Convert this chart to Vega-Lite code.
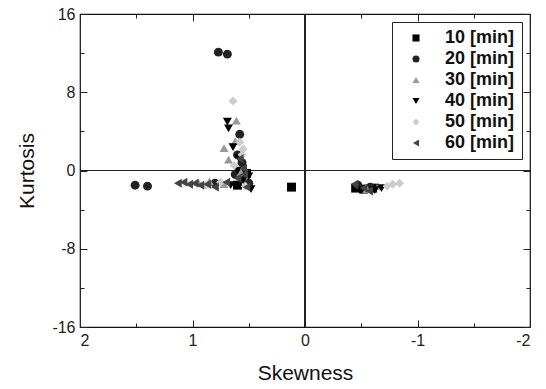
{
  "$schema": "https://vega.github.io/schema/vega-lite/v6.json",
  "width": 450,
  "height": 313,
  "autosize": "none",
  "padding": {"left": 80, "top": 14, "right": 16, "bottom": 62},
  "background": "white",
  "config": {
    "view": {"stroke": "#111", "strokeWidth": 1.2},
    "font": "Liberation Sans",
    "axis": {"domain": false, "grid": false, "labelFont": "Liberation Sans", "labelFontSize": 16, "labelColor": "#222", "tickColor": "#222", "titleFont": "Liberation Sans", "titleFontSize": 21, "titleFontWeight": "normal", "titleColor": "#111"}
  },
  "data": {"values": [
    {"s": 0.12, "k": -1.7, "t": "10 [min]"},
    {"s": -0.45, "k": -1.8, "t": "10 [min]"},
    {"s": -0.52, "k": -1.9, "t": "10 [min]"},
    {"s": -0.60, "k": -1.8, "t": "10 [min]"},
    {"s": 0.52, "k": -0.3, "t": "10 [min]"},
    {"s": 0.60, "k": -1.5, "t": "10 [min]"},
    {"s": 0.77, "k": 12.1, "t": "20 [min]"},
    {"s": 0.69, "k": 11.9, "t": "20 [min]"},
    {"s": 1.51, "k": -1.5, "t": "20 [min]"},
    {"s": 1.40, "k": -1.6, "t": "20 [min]"},
    {"s": 0.58, "k": 3.7, "t": "20 [min]"},
    {"s": 0.56, "k": 0.8, "t": "20 [min]"},
    {"s": 0.62, "k": -0.4, "t": "20 [min]"},
    {"s": 0.50, "k": -1.3, "t": "20 [min]"},
    {"s": 0.60, "k": 1.6, "t": "20 [min]"},
    {"s": -0.47, "k": -1.5, "t": "20 [min]"},
    {"s": -0.58, "k": -1.7, "t": "20 [min]"},
    {"s": 0.80, "k": -1.3, "t": "20 [min]"},
    {"s": 0.61, "k": 5.1, "t": "30 [min]"},
    {"s": 0.72, "k": 2.3, "t": "30 [min]"},
    {"s": 0.68, "k": 1.1, "t": "30 [min]"},
    {"s": 0.57, "k": -0.2, "t": "30 [min]"},
    {"s": 0.85, "k": -1.1, "t": "30 [min]"},
    {"s": 0.72, "k": -1.4, "t": "30 [min]"},
    {"s": 0.95, "k": -1.2, "t": "30 [min]"},
    {"s": 0.62, "k": 3.0, "t": "30 [min]"},
    {"s": -0.55, "k": -1.9, "t": "30 [min]"},
    {"s": -0.65, "k": -1.6, "t": "30 [min]"},
    {"s": 0.69, "k": 5.0, "t": "40 [min]"},
    {"s": 0.68, "k": 4.3, "t": "40 [min]"},
    {"s": 0.64, "k": 2.4, "t": "40 [min]"},
    {"s": 0.60, "k": 0.0, "t": "40 [min]"},
    {"s": 0.50, "k": -0.6, "t": "40 [min]"},
    {"s": 0.66, "k": -1.5, "t": "40 [min]"},
    {"s": 0.48, "k": -1.9, "t": "40 [min]"},
    {"s": 0.55, "k": -1.0, "t": "40 [min]"},
    {"s": 0.59, "k": 1.3, "t": "40 [min]"},
    {"s": -0.50, "k": -2.0, "t": "40 [min]"},
    {"s": -0.62, "k": -2.0, "t": "40 [min]"},
    {"s": -0.68, "k": -1.8, "t": "40 [min]"},
    {"s": 0.64, "k": 7.1, "t": "50 [min]"},
    {"s": 0.58, "k": 2.9, "t": "50 [min]"},
    {"s": 0.56, "k": 1.6, "t": "50 [min]"},
    {"s": 0.63, "k": 0.5, "t": "50 [min]"},
    {"s": 0.88, "k": -1.5, "t": "50 [min]"},
    {"s": 0.75, "k": -1.2, "t": "50 [min]"},
    {"s": 0.53, "k": -1.6, "t": "50 [min]"},
    {"s": 0.55, "k": 2.2, "t": "50 [min]"},
    {"s": -0.73, "k": -1.6, "t": "50 [min]"},
    {"s": -0.78, "k": -1.4, "t": "50 [min]"},
    {"s": -0.84, "k": -1.3, "t": "50 [min]"},
    {"s": 1.13, "k": -1.3, "t": "60 [min]"},
    {"s": 1.08, "k": -1.2, "t": "60 [min]"},
    {"s": 1.03, "k": -1.4, "t": "60 [min]"},
    {"s": 0.98, "k": -1.3, "t": "60 [min]"},
    {"s": 0.93, "k": -1.5, "t": "60 [min]"},
    {"s": 0.87, "k": -1.4, "t": "60 [min]"},
    {"s": 0.80, "k": -1.7, "t": "60 [min]"},
    {"s": 0.70, "k": -1.2, "t": "60 [min]"},
    {"s": 0.60, "k": -0.8, "t": "60 [min]"},
    {"s": 0.55, "k": 0.2, "t": "60 [min]"},
    {"s": 0.52, "k": -1.7, "t": "60 [min]"},
    {"s": 0.58, "k": 1.2, "t": "60 [min]"},
    {"s": 0.54, "k": -0.4, "t": "60 [min]"},
    {"s": -0.44, "k": -1.4, "t": "60 [min]"},
    {"s": -0.52, "k": -1.8, "t": "60 [min]"},
    {"s": -0.57, "k": -2.1, "t": "60 [min]"}
  ]},
  "resolve": {"scale": {"x": "shared", "y": "shared"}, "axis": {"x": "independent", "y": "independent"}},
  "layer": [
    {
      "mark": {"type": "rule", "color": "#222", "strokeWidth": 1.2},
      "encoding": {
        "x": {"datum": 0, "type": "quantitative", "scale": {"domain": [-2, 2], "reverse": true, "nice": false, "zero": false},
              "axis": {"orient": "top", "values": [-2, -1, 0, 1, 2], "labels": false, "title": null, "tickSize": -7}}
      }
    },
    {
      "mark": {"type": "rule", "color": "#222", "strokeWidth": 1.2},
      "encoding": {
        "y": {"datum": 0, "type": "quantitative", "scale": {"domain": [-16, 16], "nice": false, "zero": false},
              "axis": {"orient": "right", "values": [-16, -8, 0, 8, 16], "labels": false, "title": null, "tickSize": -7}}
      }
    },
    {
      "mark": {"type": "rule", "opacity": 0},
      "encoding": {
        "x": {"datum": 0, "type": "quantitative", "scale": {"domain": [-2, 2], "reverse": true, "nice": false, "zero": false},
              "axis": {"orient": "top", "values": [-1.5, -0.5, 0.5, 1.5], "labels": false, "title": null, "tickSize": -4}}
      }
    },
    {
      "mark": {"type": "rule", "opacity": 0},
      "encoding": {
        "x": {"datum": 0, "type": "quantitative", "scale": {"domain": [-2, 2], "reverse": true, "nice": false, "zero": false},
              "axis": {"orient": "bottom", "values": [-1.5, -0.5, 0.5, 1.5], "labels": false, "title": null, "tickSize": -4}}
      }
    },
    {
      "mark": {"type": "rule", "opacity": 0},
      "encoding": {
        "y": {"datum": 0, "type": "quantitative", "scale": {"domain": [-16, 16], "nice": false, "zero": false},
              "axis": {"orient": "right", "values": [-12, -4, 4, 12], "labels": false, "title": null, "tickSize": -4}}
      }
    },
    {
      "mark": {"type": "rule", "opacity": 0},
      "encoding": {
        "y": {"datum": 0, "type": "quantitative", "scale": {"domain": [-16, 16], "nice": false, "zero": false},
              "axis": {"orient": "left", "values": [-12, -4, 4, 12], "labels": false, "title": null, "tickSize": -4}}
      }
    },
    {
      "mark": {"type": "point", "filled": true, "size": 80, "opacity": 1},
      "encoding": {
        "x": {"field": "s", "type": "quantitative", "scale": {"domain": [-2, 2], "reverse": true, "nice": false, "zero": false},
              "axis": {"orient": "bottom", "values": [-2, -1, 0, 1, 2], "title": "Skewness", "tickSize": -7, "labelPadding": 12, "titlePadding": 14,
                       "labelExpr": "datum.value < 0 ? '-' + abs(datum.value) : '' + datum.value"}},
        "y": {"field": "k", "type": "quantitative", "scale": {"domain": [-16, 16], "nice": false, "zero": false},
              "axis": {"orient": "left", "values": [-16, -8, 0, 8, 16], "title": "Kurtosis", "tickSize": -7, "labelPadding": 12, "titlePadding": 14,
                       "labelExpr": "datum.value < 0 ? '-' + abs(datum.value) : '' + datum.value"}},
        "shape": {"field": "t", "type": "nominal",
                  "scale": {"domain": ["10 [min]", "20 [min]", "30 [min]", "40 [min]", "50 [min]", "60 [min]"],
                            "range": ["square", "circle", "triangle-up", "triangle-down", "diamond", "triangle-left"]},
                  "legend": {"orient": "none", "legendX": 312, "legendY": 8, "title": null, "strokeColor": "#222", "fillColor": "white", "padding": 7, "labelFont": "Liberation Sans", "labelFontSize": 18, "labelFontWeight": "bold", "labelColor": "#111", "symbolSize": 50, "rowPadding": 3, "labelOffset": 20, "symbolOffset": 8}},
        "color": {"field": "t", "type": "nominal",
                  "scale": {"domain": ["10 [min]", "20 [min]", "30 [min]", "40 [min]", "50 [min]", "60 [min]"],
                            "range": ["#000000", "#222222", "#999999", "#000000", "#cccccc", "#444444"]}}
      }
    }
  ]
}
